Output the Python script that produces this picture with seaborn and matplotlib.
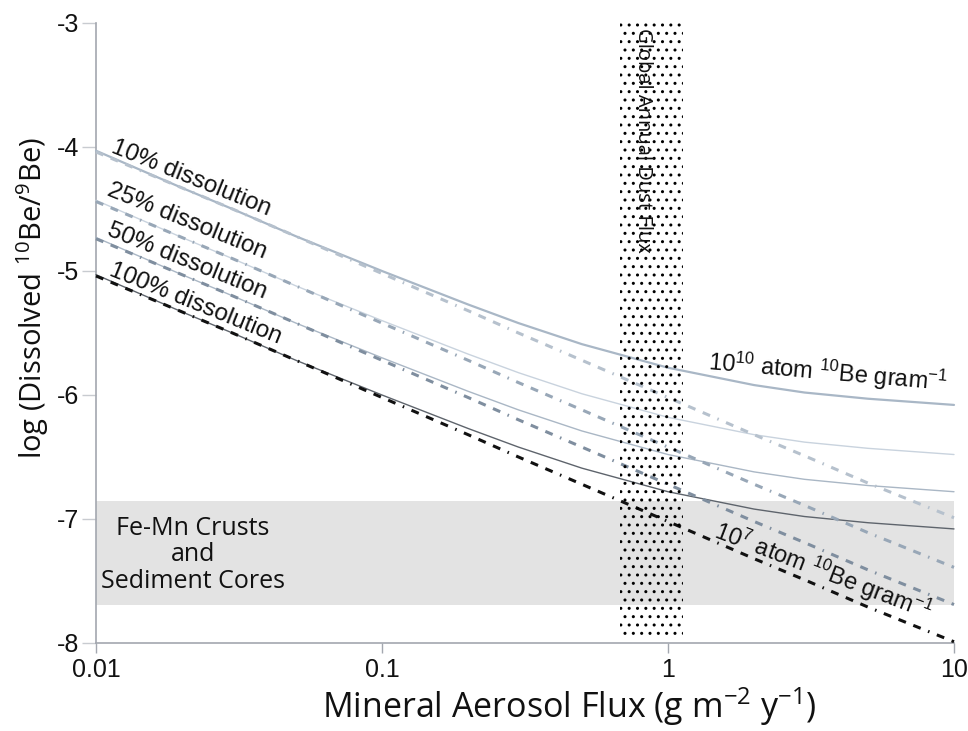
import numpy as np
import pandas as pd
import matplotlib
matplotlib.use("Agg")
import matplotlib.pyplot as plt
import seaborn as sns
from matplotlib.patches import Rectangle

# ---------------- data ----------------
flux = [0.01, 0.02, 0.03, 0.05, 0.1, 0.2, 0.3, 0.5, 1, 2, 3, 5, 10]

# 10^10 atom 10Be/gram (solid lines)
solid_10 = [-4.03, -4.33, -4.50, -4.72, -5.00, -5.27, -5.42, -5.59, -5.78, -5.92, -5.98, -6.03, -6.08]
solid_25 = [-4.43, -4.73, -4.90, -5.12, -5.40, -5.67, -5.82, -5.99, -6.18, -6.32, -6.38, -6.43, -6.48]
solid_50 = [-4.73, -5.03, -5.20, -5.42, -5.70, -5.97, -6.12, -6.29, -6.48, -6.62, -6.68, -6.73, -6.78]
solid_100 = [-5.03, -5.33, -5.50, -5.72, -6.00, -6.27, -6.42, -6.59, -6.78, -6.92, -6.98, -7.03, -7.08]

# 10^7 atom 10Be/gram (dashed lines)
dash_10 = [-4.04, -4.33, -4.50, -4.72, -5.02, -5.32, -5.50, -5.72, -6.02, -6.32, -6.49, -6.71, -6.99]
dash_25 = [-4.44, -4.73, -4.90, -5.12, -5.42, -5.72, -5.90, -6.12, -6.42, -6.72, -6.89, -7.11, -7.39]
dash_50 = [-4.74, -5.03, -5.20, -5.42, -5.72, -6.02, -6.20, -6.42, -6.72, -7.02, -7.19, -7.41, -7.69]
dash_100 = [-5.04, -5.33, -5.50, -5.72, -6.02, -6.32, -6.50, -6.72, -7.02, -7.32, -7.49, -7.71, -7.99]

dissolution_labels = ["10% dissolution", "25% dissolution", "50% dissolution", "100% dissolution"]
label_x = [0.0112, 0.0108, 0.0108, 0.0110]
label_y = [-4.04, -4.39, -4.71, -5.03]

x_ticks = [0.01, 0.1, 1, 10]
x_ticklabels = ["0.01", "0.1", "1", "10"]
y_ticks = [-8, -7, -6, -5, -4, -3]
y_ticklabels = ["-8", "-7", "-6", "-5", "-4", "-3"]

crust_band = (-7.69, -6.855)      # Fe-Mn crusts & sediment cores (y range)
dust_band = (0.68, 1.13)          # global annual dust flux (x range)
dust_band_y = (-7.95, -3.0)

# ---------------- styling ----------------
sns.set_theme(style="white")
plt.rcParams["font.family"] = ["Liberation Sans", "DejaVu Sans"]
plt.rcParams["hatch.linewidth"] = 1.0
plt.rcParams["axes.unicode_minus"] = False

W, H = 968, 731
fig = plt.figure(figsize=(W / 100, H / 100), dpi=100)
ax = fig.add_axes([96 / W, 1 - 643 / H, (954 - 96) / W, (643 - 23) / H])
ax.set_xscale("log")
ax.set_xlim(0.01, 10)
ax.set_ylim(-8, -3)

# Fe-Mn band
ax.axhspan(crust_band[0], crust_band[1], color="#e3e3e3", zorder=0, lw=0)

dash_style = (0, (2.6, 2.6, 2.6, 2.6, 2.6, 2.6, 0.5, 2.6))
series = [
    (solid_10, "#a9b7c6", 1.6, "-"),
    (solid_25, "#c9d3de", 1.0, "-"),
    (solid_50, "#aab7c5", 1.0, "-"),
    (solid_100, "#5e646c", 1.0, "-"),
    (dash_10, "#b6c1cd", 2.2, dash_style),
    (dash_25, "#98a7b7", 2.2, dash_style),
    (dash_50, "#7f8e9f", 2.2, dash_style),
    (dash_100, "#111111", 2.2, dash_style),
]
for vals, col, lw, ls in series:
    df = pd.DataFrame({"flux": flux, "ratio": vals})
    sns.lineplot(data=df, x="flux", y="ratio", ax=ax, color=col, linewidth=lw,
                 linestyle=ls, zorder=3, clip_on=False)

# dust band (stippled)
ax.add_patch(Rectangle((dust_band[0], dust_band_y[0]), dust_band[1] - dust_band[0],
                       dust_band_y[1] - dust_band_y[0], facecolor="none",
                       edgecolor="black", hatch="..", lw=0, zorder=4))

ax.text(0.818, -3.95, "Global Annual Dust Flux", rotation=270, ha="center", va="center",
        fontsize=14.5, family=["Open Sans", "DejaVu Sans"], color="#111111", zorder=5)

# dissolution labels
for lab, lx, ly in zip(dissolution_labels, label_x, label_y):
    ax.text(lx, ly, lab, rotation=-22, rotation_mode="anchor", ha="left", va="baseline",
            fontsize=17.5, color="#111111", zorder=5)

ax.text(1.38, -5.80, r"10$\mathregular{^{10}}$ atom $\mathregular{^{10}}$Be gram$\mathregular{^{-1}}$",
        rotation=-5, rotation_mode="anchor", ha="left", va="baseline", fontsize=17,
        color="#111111", zorder=5)
ax.text(1.43, -7.15, r"10$\mathregular{^{7}}$ atom $\mathregular{^{10}}$Be gram$\mathregular{^{-1}}$",
        rotation=-21, rotation_mode="anchor", ha="left", va="baseline", fontsize=17,
        color="#111111", zorder=5)

ax.text(0.0218, -7.29, "Fe-Mn Crusts\nand\nSediment Cores", ha="center", va="center",
        multialignment="center", fontsize=18, family=["Open Sans", "DejaVu Sans"],
        color="#111111", linespacing=1.1, zorder=5)

# axes styling
for side in ["top", "right"]:
    ax.spines[side].set_visible(False)
for side in ["left", "bottom"]:
    ax.spines[side].set_color("#a3a7af")
    ax.spines[side].set_linewidth(1.2)

ax.set_xticks(x_ticks)
ax.set_xticklabels(x_ticklabels)
ax.xaxis.set_minor_locator(matplotlib.ticker.NullLocator())
ax.set_yticks(y_ticks)
ax.set_yticklabels(y_ticklabels)
ax.tick_params(axis="x", direction="out", length=7, width=1, color="#a3a7af",
               labelsize=18, pad=4, labelcolor="#111111", bottom=True)
ax.tick_params(axis="y", direction="out", length=10, width=1, color="#c8cbd0",
               labelsize=18, pad=2, labelcolor="#111111", left=True)

ax.set_xlabel(r"Mineral Aerosol Flux (g m$\mathregular{^{-2}}$ y$\mathregular{^{-1}}$)",
              fontsize=24.5, family=["Open Sans", "DejaVu Sans"], color="#111111",
              va="bottom")
ax.set_ylabel(r"log (Dissolved $\mathregular{^{10}}$Be/$\mathregular{^{9}}$Be)",
              fontsize=21, family=["Open Sans", "DejaVu Sans"], color="#111111",
              va="center")
ax.xaxis.set_label_coords(0.551, -0.137)
ax.yaxis.set_label_coords(-0.074, 0.556)
ax.grid(False)

fig.savefig("out.png", dpi=100)
